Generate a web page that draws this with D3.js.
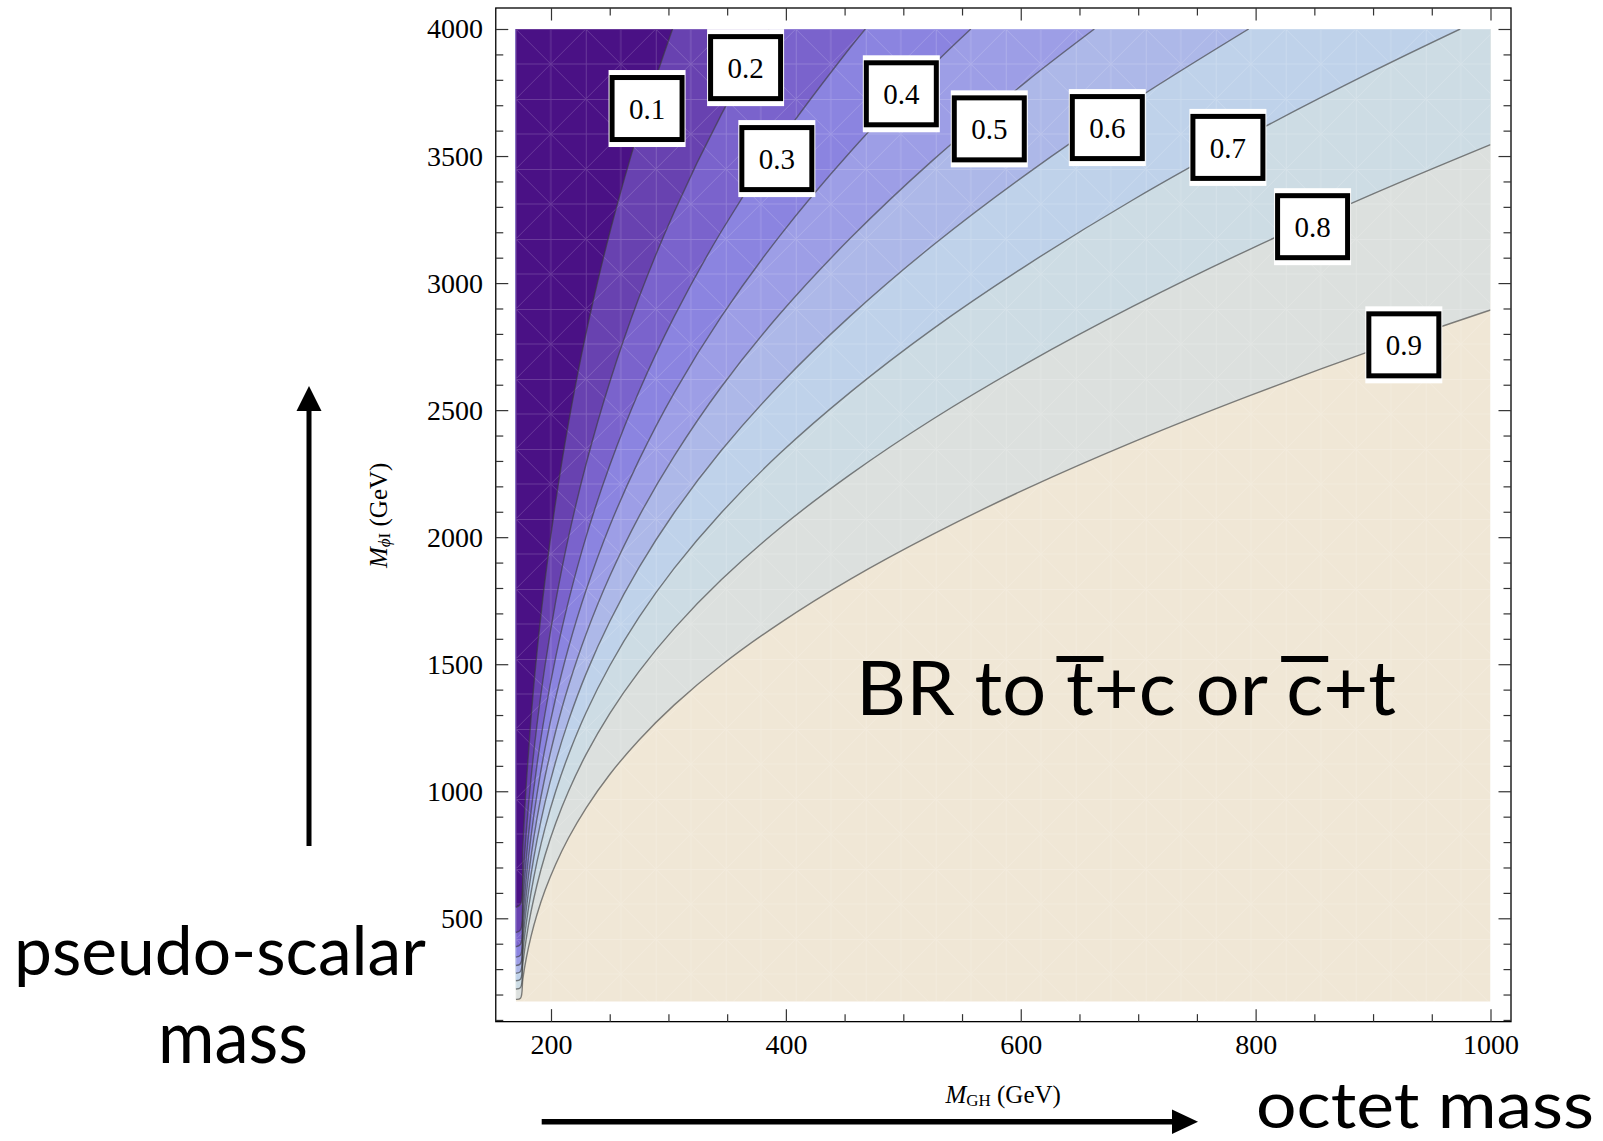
<!DOCTYPE html>
<html>
<head>
<meta charset="utf-8">
<script src="https://cdn.jsdelivr.net/npm/d3@7"></script>
<style>
  html, body { margin: 0; padding: 0; background: #ffffff; }
  svg { display: block; }
</style>
</head>
<body>
<svg id="chart" width="1603" height="1141"></svg>
<script>
// ---------------- DATA ----------------
// Contour levels of the branching ratio
const levels = [0.1, 0.2, 0.3, 0.4, 0.5, 0.6, 0.7, 0.8, 0.9];
// band colours: below 0.1, 0.1-0.2, ..., above 0.9
const bandColors = ["#4a1185", "#6842b0", "#7a63cc", "#8b84e0", "#9d9ee6",
                    "#adb8e8", "#bfd2ea", "#cddce4", "#dce0de", "#f0e7d6"];

// contour lines, points [M_GH, M_phiI] in GeV, from the left edge outward
const contour_01 = [[170,543],[174,556],[176,784],[179,1033],[183,1287],[188,1543],[195,1834],[204,2140],[215,2452],[230,2806],[250,3198],[275,3606],[303.5,4000]];
const contour_02 = [[170,444],[174,454],[176,640],[179,843],[183,1051],[188,1259],[195,1497],[204,1747],[215,2002],[230,2290],[250,2610],[275,2944],[305,3281],[345,3663],[385.8,4000]];
const contour_03 = [[170,388],[174,397],[176,559],[179,737],[183,919],[188,1101],[195,1309],[204,1528],[215,1750],[230,2003],[250,2282],[275,2574],[305,2869],[345,3203],[395,3559],[455,3928],[467.7,4000]];
const contour_04 = [[170,347],[174,355],[176,501],[179,660],[183,823],[188,986],[195,1172],[204,1368],[215,1567],[230,1793],[250,2044],[275,2304],[305,2569],[345,2868],[395,3187],[455,3517],[525,3856],[557.5,4000]];
const contour_05 = [[170,314],[174,321],[176,452],[179,596],[183,743],[188,891],[195,1059],[204,1236],[215,1416],[230,1620],[250,1846],[275,2082],[305,2320],[345,2591],[395,2879],[455,3177],[525,3483],[605,3794],[662.7,4000]];
const contour_06 = [[170,284],[174,290],[176,409],[179,539],[183,672],[188,805],[195,957],[204,1117],[215,1279],[230,1464],[250,1668],[275,1881],[305,2097],[345,2341],[395,2601],[455,2871],[525,3148],[605,3429],[695,3714],[794.1,4000]];
const contour_07 = [[170,254],[174,260],[176,366],[179,482],[183,601],[188,721],[195,857],[204,1000],[215,1145],[230,1311],[250,1494],[275,1685],[305,1878],[345,2096],[395,2330],[455,2571],[525,2819],[605,3070],[695,3326],[795,3584],[900,3834],[974.2,4000]];
const contour_08 = [[170,222],[174,227],[176,320],[179,422],[183,526],[188,630],[195,749],[204,874],[215,1001],[230,1146],[250,1306],[275,1472],[305,1641],[345,1832],[395,2036],[455,2247],[525,2464],[605,2684],[695,2907],[795,3133],[900,3351],[1000,3545]];
const contour_09 = [[170,181],[174,185],[176,261],[179,344],[183,429],[188,514],[195,611],[204,713],[215,817],[230,935],[250,1066],[275,1202],[305,1340],[345,1496],[395,1662],[455,1835],[525,2011],[605,2191],[695,2373],[795,2557],[900,2736],[1000,2894]];
const contours = [contour_01, contour_02, contour_03, contour_04, contour_05,
                  contour_06, contour_07, contour_08, contour_09];

// contour label anchor positions (GeV)
const labelText = ["0.1", "0.2", "0.3", "0.4", "0.5", "0.6", "0.7", "0.8", "0.9"];
const labelX = [281.8, 365.7, 392.3, 498.3, 573.2, 673.7, 776.4, 848.5, 926.2];
const labelY = [3687, 3848, 3490, 3745, 3607, 3612, 3534, 3222, 2757];

// plotted domain and ticks
const xDomain = [170, 1000];
const yDomain = [172, 4000];
const xMajorTicks = [200, 400, 600, 800, 1000];
const xMinorTicks = [250, 300, 350, 450, 500, 550, 650, 700, 750, 850, 900, 950];
const yMajorTicks = [500, 1000, 1500, 2000, 2500, 3000, 3500, 4000];
const yMinorTicks = [100, 200, 300, 400, 600, 700, 800, 900, 1100, 1200, 1300, 1400,
                     1600, 1700, 1800, 1900, 2100, 2200, 2300, 2400, 2600, 2700, 2800, 2900,
                     3100, 3200, 3300, 3400, 3600, 3700, 3800, 3900];

// ---------------- DRAWING ----------------
const svg = d3.select("#chart");
const x = d3.scaleLinear().domain([200, 1000]).range([551, 1490.5]);
const y = d3.scaleLinear().domain([500, 4000]).range([918.3, 29]);

const X0 = x(xDomain[0]), X1 = x(xDomain[1]);
const YB = y(yDomain[0]), YT = y(yDomain[1]);
const FL = X0 - 20, FR = X1 + 20.5, FT = YT - 21, FB = YB + 20;

const defs = svg.append("defs");
defs.append("clipPath").attr("id", "plotClip")
  .append("rect").attr("x", X0).attr("y", YT).attr("width", X1 - X0).attr("height", YB - YT);

const mesh = defs.append("pattern").attr("id", "mesh")
  .attr("patternUnits", "userSpaceOnUse")
  .attr("x", X0).attr("y", YT).attr("width", 70).attr("height", 70);
mesh.append("path")
  .attr("d", "M0,0L70,70M70,0L0,70M0,0.5H70M0.5,0V70M35,0V70M0,35H70")
  .attr("stroke", "#ffffff").attr("stroke-width", 1).attr("fill", "none");

const plot = svg.append("g").attr("clip-path", "url(#plotClip)");

const line = d3.line().x(d => x(d[0])).y(d => y(d[1])).curve(d3.curveCatmullRom.alpha(0.5));

// top band (above 0.9)
plot.append("rect").attr("x", X0).attr("y", YT).attr("width", X1 - X0).attr("height", YB - YT)
  .attr("fill", bandColors[9]);

// fill regions with BR below each level, from high level down
for (let i = contours.length - 1; i >= 0; i--) {
  const c = contours[i];
  const pts = (c[0][0] > xDomain[0]) ? [[xDomain[0], c[0][1]]].concat(c) : c.slice();
  const last = c[c.length - 1];
  let d = line(pts);
  if (last[1] >= yDomain[1]) {
    d += `L${x(xDomain[0]) - 2},${y(yDomain[1]) - 2}`;
  } else {
    d += `L${x(xDomain[1]) + 2},${y(yDomain[1]) - 2}L${x(xDomain[0]) - 2},${y(yDomain[1]) - 2}`;
  }
  d += `L${x(xDomain[0]) - 2},${y(pts[0][1])}Z`;
  plot.append("path").attr("d", d).attr("fill", bandColors[i]);
}

// faint mesh texture
plot.append("rect").attr("x", X0).attr("y", YT).attr("width", X1 - X0).attr("height", YB - YT)
  .attr("fill", "url(#mesh)").attr("opacity", 0.17);

// contour lines
plot.selectAll("path.contour").data(contours).join("path")
  .attr("class", "contour")
  .attr("d", d => line(d))
  .attr("fill", "none")
  .attr("stroke", "#3a3a3a")
  .attr("stroke-opacity", 0.62)
  .attr("stroke-width", 1.4);

// contour labels
const serif = "'Liberation Serif', 'DejaVu Serif', serif";
const lab = svg.append("g");
labelText.forEach((t, i) => {
  const cx = x(labelX[i]), cy = y(labelY[i]);
  const bw = 75, bh = 67;
  lab.append("rect").attr("x", cx - bw / 2 - 1).attr("y", cy - bh / 2 - 5)
    .attr("width", bw + 2).attr("height", bh + 10).attr("fill", "#ffffff");
  lab.append("rect").attr("x", cx - bw / 2 + 2.5).attr("y", cy - bh / 2 + 2.5)
    .attr("width", bw - 5).attr("height", bh - 5)
    .attr("fill", "#ffffff").attr("stroke", "#000000").attr("stroke-width", 5);
  lab.append("text").attr("x", cx).attr("y", cy).attr("dy", "0.35em")
    .attr("text-anchor", "middle")
    .attr("font-family", serif)
    .attr("font-size", 29).attr("fill", "#000").text(t);
});

// frame
svg.append("rect").attr("x", FL).attr("y", FT).attr("width", FR - FL).attr("height", FB - FT)
  .attr("fill", "none").attr("stroke", "#000").attr("stroke-width", 1.3);

function styleAxis(g) {
  g.select(".domain").remove();
  g.attr("color", "#333333");
  g.selectAll("line").attr("stroke-width", 1.2);
  g.selectAll("text").attr("fill", "#000")
    .attr("font-family", serif)
    .attr("font-size", 28);
}

svg.append("g").attr("transform", `translate(0,${FB})`)
  .call(d3.axisBottom(x).tickValues(xMajorTicks).tickSize(-12.5).tickPadding(12).tickFormat(d3.format("d")))
  .call(styleAxis);
svg.append("g").attr("transform", `translate(0,${FB})`)
  .call(d3.axisBottom(x).tickValues(xMinorTicks).tickSize(-7.5).tickFormat(""))
  .call(styleAxis);
svg.append("g").attr("transform", `translate(0,${FT})`)
  .call(d3.axisTop(x).tickValues(xMajorTicks).tickSize(-12.5).tickFormat(""))
  .call(styleAxis);
svg.append("g").attr("transform", `translate(0,${FT})`)
  .call(d3.axisTop(x).tickValues(xMinorTicks).tickSize(-7.5).tickFormat(""))
  .call(styleAxis);
svg.append("g").attr("transform", `translate(${FL},0)`)
  .call(d3.axisLeft(y).tickValues(yMajorTicks).tickSize(-12.5).tickPadding(12.7).tickFormat(d3.format("d")))
  .call(styleAxis);
svg.append("g").attr("transform", `translate(${FL},0)`)
  .call(d3.axisLeft(y).tickValues(yMinorTicks).tickSize(-7.5).tickFormat(""))
  .call(styleAxis);
svg.append("g").attr("transform", `translate(${FR},0)`)
  .call(d3.axisRight(y).tickValues(yMajorTicks).tickSize(-12.5).tickFormat(""))
  .call(styleAxis);
svg.append("g").attr("transform", `translate(${FR},0)`)
  .call(d3.axisRight(y).tickValues(yMinorTicks).tickSize(-7.5).tickFormat(""))
  .call(styleAxis);

// axis titles
const xt = svg.append("text").attr("x", (X0 + X1) / 2).attr("y", 1103)
  .attr("text-anchor", "middle").attr("font-family", serif).attr("font-size", 25).attr("fill", "#000");
xt.append("tspan").attr("font-style", "italic").text("M");
xt.append("tspan").attr("font-size", 17).attr("dy", 3).text("GH");
xt.append("tspan").attr("dy", -3).text(" (GeV)");

const yt = svg.append("text").attr("transform", `translate(387,${(YT + YB) / 2}) rotate(-90)`)
  .attr("text-anchor", "middle").attr("font-family", serif).attr("font-size", 25).attr("fill", "#000");
yt.append("tspan").attr("font-style", "italic").text("M");
yt.append("tspan").attr("font-size", 17).attr("dy", 3).attr("font-style", "italic").text("\u03D5");
yt.append("tspan").attr("font-size", 17).text("I");
yt.append("tspan").attr("dy", -3).text(" (GeV)");

// annotations
const sans = "Lato, 'Open Sans', 'Noto Sans', sans-serif";
const ps = svg.append("text").attr("x", 14).attr("y", 975).attr("font-family", sans).attr("font-size", 74)
  .attr("fill", "#000").text("pseudo-scalar");
{
  // fit the natural width to the space left of the "500" tick label
  const w = ps.node().getComputedTextLength();
  if (w > 0) ps.attr("font-size", Math.min(74, 74 * 412 / w));
}
svg.append("text").attr("x", 158).attr("y", 1063).attr("font-family", sans).attr("font-size", 74)
  .attr("textLength", 150).attr("lengthAdjust", "spacingAndGlyphs").attr("fill", "#000").text("mass");
svg.append("text").attr("x", 1256).attr("y", 1128).attr("font-family", sans).attr("font-size", 64)
  .attr("textLength", 338).attr("lengthAdjust", "spacingAndGlyphs").attr("fill", "#000").text("octet mass");

const br = svg.append("text").attr("x", 856).attr("y", 715).attr("font-family", sans).attr("font-size", 76)
  .attr("textLength", 540).attr("lengthAdjust", "spacingAndGlyphs").attr("fill", "#000")
  .text("BR to t+c or c+t");
[6, 13].forEach(i => {
  let cxm;
  try {
    const e = br.node().getExtentOfChar(i);
    cxm = e.x + e.width / 2;
  } catch (err) {
    cxm = i === 6 ? 1073 : 1302;
  }
  svg.append("rect").attr("x", cxm - 23.5).attr("y", 656).attr("width", 47).attr("height", 6).attr("fill", "#000");
});

// arrows
svg.append("line").attr("x1", 309).attr("y1", 846).attr("x2", 309).attr("y2", 405)
  .attr("stroke", "#000").attr("stroke-width", 5);
svg.append("path").attr("d", "M309,386L321.5,411L296.5,411Z").attr("fill", "#000");
svg.append("line").attr("x1", 541.7).attr("y1", 1121.7).attr("x2", 1178).attr("y2", 1121.7)
  .attr("stroke", "#000").attr("stroke-width", 5.5);
svg.append("path").attr("d", "M1198,1121.7L1172,1109.5L1172,1133.9Z").attr("fill", "#000");
</script>
</body>
</html>
